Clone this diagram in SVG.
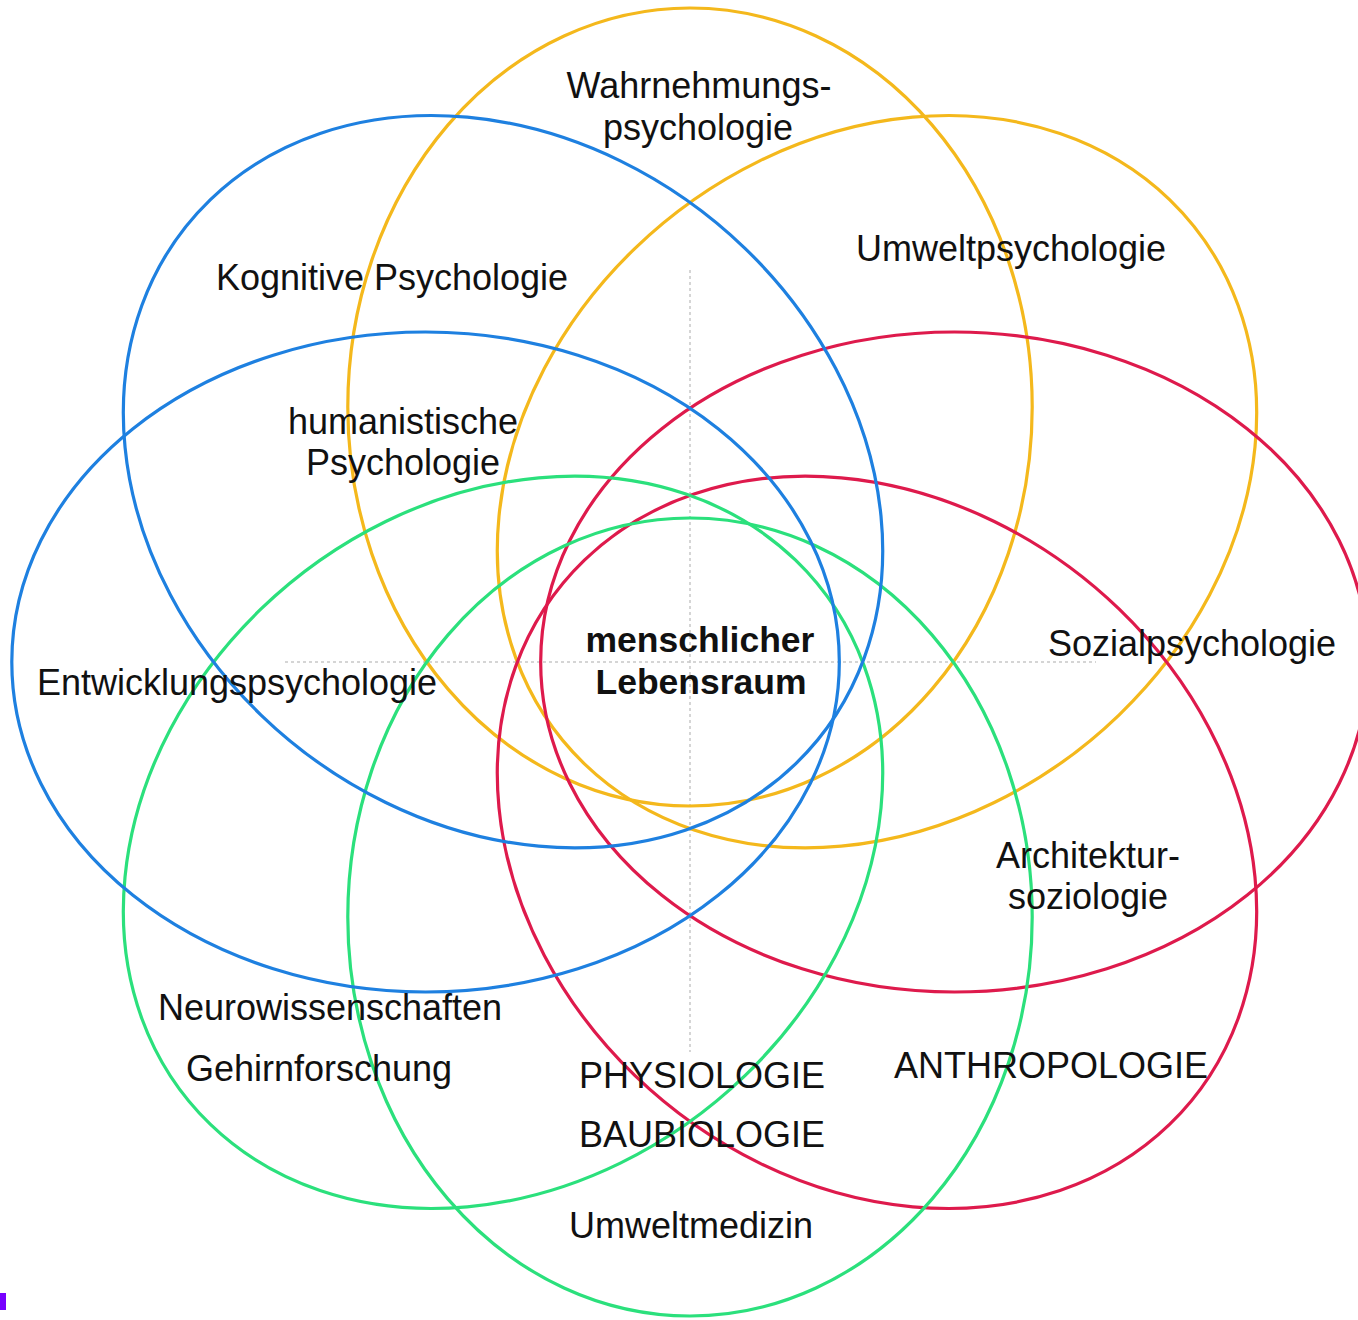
<svg xmlns="http://www.w3.org/2000/svg" width="1358" height="1320" viewBox="0 0 1358 1320">
<style>
.ring{fill:none;stroke-width:3.2;vector-effect:non-scaling-stroke}
.y{stroke:#F4B81C}.r{stroke:#DE1A4C}.g{stroke:#2BE07C}.b{stroke:#1E80E0}
.axis{stroke:#C8C8C8;stroke-width:1.5;stroke-dasharray:3 3;fill:none}
text{font-family:"Liberation Sans",Arial,Helvetica,sans-serif;font-size:36px;fill:#111;text-anchor:middle}
.bold{font-weight:bold;font-size:35.5px}
</style>
<rect width="1358" height="1320" fill="#fff"/>
<g id="connectors">
<line class="axis" x1="690" y1="270" x2="690" y2="1052"/>
<line class="axis" x1="285" y1="662" x2="1096" y2="662"/>
</g>
<g id="rings" transform="translate(690,662) scale(1.037,1)">
<g id="ring-wahrnehmung"><ellipse class="ring y" cx="0" cy="-255" rx="330" ry="399"/></g>
<g id="ring-umwelt"><ellipse class="ring y" cx="0" cy="-255" rx="330" ry="399" transform="rotate(45)"/></g>
<g id="ring-sozial"><ellipse class="ring r" cx="0" cy="-255" rx="330" ry="399" transform="rotate(90)"/></g>
<g id="ring-anthropologie"><ellipse class="ring r" cx="0" cy="-255" rx="330" ry="399" transform="rotate(135)"/></g>
<g id="ring-medizin"><ellipse class="ring g" cx="0" cy="-255" rx="330" ry="399" transform="rotate(180)"/></g>
<g id="ring-neuro"><ellipse class="ring g" cx="0" cy="-255" rx="330" ry="399" transform="rotate(225)"/></g>
<g id="ring-entwicklung"><ellipse class="ring b" cx="0" cy="-255" rx="330" ry="399" transform="rotate(270)"/></g>
<g id="ring-kognitiv"><ellipse class="ring b" cx="0" cy="-255" rx="330" ry="399" transform="rotate(315)"/></g>
</g>
<g id="labels">
<g id="l-wahrnehmung"><text x="699" y="98">Wahrnehmungs-</text><text x="698" y="140">psychologie</text></g>
<g id="l-umwelt"><text x="1011" y="261">Umweltpsychologie</text></g>
<g id="l-kognitiv"><text x="392" y="290">Kognitive Psychologie</text></g>
<g id="l-humanistisch"><text x="403" y="434">humanistische</text><text x="403" y="475">Psychologie</text></g>
<g id="l-center"><text class="bold" x="700" y="652">menschlicher</text><text class="bold" x="701" y="694">Lebensraum</text></g>
<g id="l-entwicklung"><text x="237" y="695">Entwicklungspsychologie</text></g>
<g id="l-sozial"><text x="1192" y="656">Sozialpsychologie</text></g>
<g id="l-architektur"><text x="1088" y="868">Architektur-</text><text x="1088" y="909">soziologie</text></g>
<g id="l-neuro"><text x="330" y="1020">Neurowissenschaften</text><text x="319" y="1081">Gehirnforschung</text></g>
<g id="l-physio"><text x="702" y="1088">PHYSIOLOGIE</text><text x="702" y="1147">BAUBIOLOGIE</text></g>
<g id="l-anthropologie"><text x="1051" y="1078">ANTHROPOLOGIE</text></g>
<g id="l-medizin"><text x="691" y="1238">Umweltmedizin</text></g>
</g>
<rect x="0" y="1293" width="6" height="17" fill="#7700FF"/>
</svg>
